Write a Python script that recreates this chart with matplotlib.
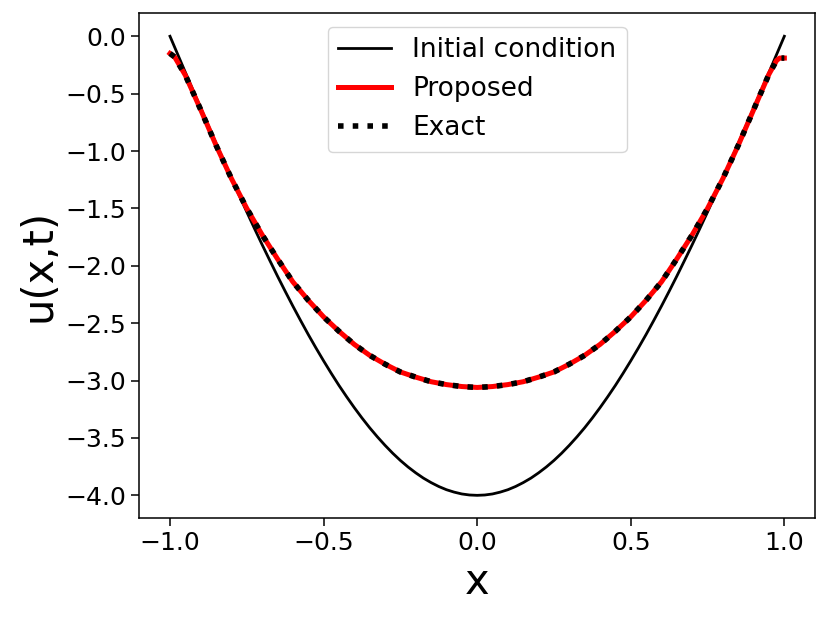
#
# plot.py: initial condition vs proposed vs exact solution
#
# import modules -------------------------------------------------------------------------------------------------------
import matplotlib
matplotlib.use('Agg')
import numpy as np
from matplotlib import pyplot as plt
from matplotlib.ticker import MultipleLocator
# ----------------------------------------------------------------------------------------------------------------------


# data -----------------------------------------------------------------------------------------------------------------
x_init = np.linspace(-1.0, 1.0, 81)
u_init = [0.0, -0.157, -0.314, -0.470, -0.626, -0.780, -0.934, -1.086, -1.236, -1.384, -1.531, -1.675, -1.816,
          -1.954, -2.090, -2.222, -2.351, -2.476, -2.598, -2.715, -2.828, -2.937, -3.042, -3.141, -3.236, -3.326,
          -3.411, -3.490, -3.564, -3.633, -3.696, -3.753, -3.804, -3.850, -3.889, -3.923, -3.951, -3.972, -3.988,
          -3.997, -4.0,
          -3.997, -3.988, -3.972, -3.951, -3.923, -3.889, -3.850, -3.804, -3.753, -3.696, -3.633, -3.564, -3.490,
          -3.411, -3.326, -3.236, -3.141, -3.042, -2.937, -2.828, -2.715, -2.598, -2.476, -2.351, -2.222, -2.090,
          -1.954, -1.816, -1.675, -1.531, -1.384, -1.236, -1.086, -0.934, -0.780, -0.626, -0.470, -0.314, -0.157,
          0.0]

x_sol = [-1.0, -0.985, -0.95, -0.9, -0.85, -0.8, -0.75, -0.7, -0.65, -0.6, -0.55, -0.5, -0.45, -0.4, -0.35,
         -0.3, -0.25, -0.2, -0.15, -0.1, -0.05, 0.0, 0.05, 0.1, 0.15, 0.2, 0.25, 0.3, 0.35, 0.4, 0.45, 0.5,
         0.55, 0.6, 0.65, 0.7, 0.75, 0.8, 0.85, 0.9, 0.95, 0.975, 0.985, 1.0]
u_proposed = [-0.15, -0.18, -0.34, -0.64, -0.95, -1.24, -1.50, -1.73, -1.94, -2.14, -2.30, -2.445, -2.57, -2.685,
              -2.78, -2.857, -2.925, -2.97, -3.01, -3.035, -3.052, -3.06, -3.052, -3.035, -3.01, -2.97, -2.925,
              -2.857, -2.78, -2.685, -2.57, -2.445, -2.30, -2.14, -1.94, -1.73, -1.50, -1.24, -0.95, -0.64, -0.33,
              -0.21, -0.19, -0.19]
u_exact = [-0.15, -0.18, -0.34, -0.64, -0.95, -1.24, -1.50, -1.73, -1.94, -2.14, -2.30, -2.445, -2.57, -2.685,
           -2.78, -2.857, -2.925, -2.97, -3.01, -3.035, -3.052, -3.06, -3.052, -3.035, -3.01, -2.97, -2.925,
           -2.857, -2.78, -2.685, -2.57, -2.445, -2.30, -2.14, -1.94, -1.73, -1.50, -1.24, -0.95, -0.64, -0.33,
           -0.21, -0.19, -0.19]
# ----------------------------------------------------------------------------------------------------------------------


# plot graph -----------------------------------------------------------------------------------------------------------
def plot_graph():
    fig = plt.figure(figsize=(8.3, 6.19), dpi=100)
    ax = fig.add_axes([0.1678, 0.1627, 0.8142, 0.8158])
    ax.plot(x_init, u_init, color='black', lw=2.0, label='Initial condition')
    ax.plot(x_sol, u_proposed, color='red', lw=3.6, label='Proposed')
    ax.plot(x_sol, u_exact, color='black', lw=4.0, ls=':', label='Exact')
    ax.xaxis.set_major_locator(MultipleLocator(0.5))
    ax.set_xlabel('x', fontsize=30)
    ax.set_ylabel('u(x,t)', fontsize=30)
    ax.tick_params(labelsize=18, length=6, width=1.1)
    for spine in ax.spines.values():
        spine.set_linewidth(1.1)
    ax.legend(loc='upper center', fontsize=19)
    fig.savefig('out.png', dpi=100)
# ----------------------------------------------------------------------------------------------------------------------


if __name__ == '__main__':
    plot_graph()
